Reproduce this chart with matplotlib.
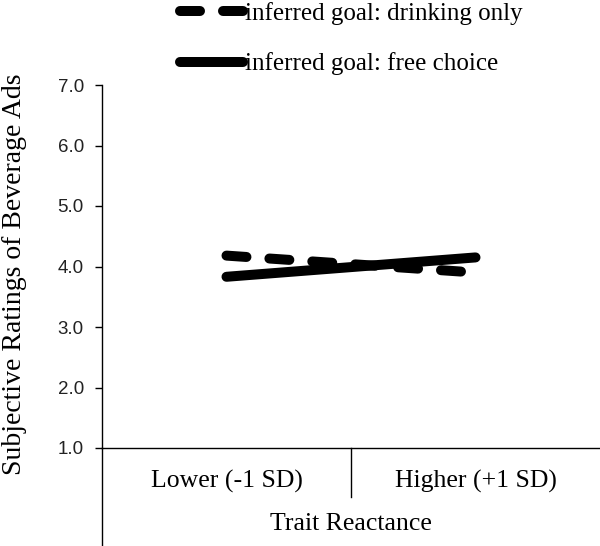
import numpy as np
import matplotlib
matplotlib.use("Agg")
import matplotlib.pyplot as plt
from matplotlib.lines import Line2D

categories = ["Lower (-1 SD)", "Higher (+1 SD)"]
drinking_only = [4.18, 3.90]
free_choice = [3.83, 4.15]
series_labels = ["inferred goal: drinking only", "inferred goal: free choice"]

serif = "Liberation Serif"
sans = "Liberation Sans"

fig = plt.figure(figsize=(6, 5.46), dpi=100)
# axes box in pixels: left 102, bottom 448, top 85
ax = fig.add_axes([102 / 600, 98 / 546, 498 / 600, 363 / 546])
h = 363.0

x = np.arange(len(categories))
lw = 7.2
ax.plot(x, drinking_only, color="black", lw=lw, linestyle=(0, (2.0, 2.3)),
        dash_capstyle="round", solid_capstyle="round", label=series_labels[0])
ax.plot(x, free_choice, color="black", lw=lw, solid_capstyle="round",
        label=series_labels[1])

ax.set_xlim(-0.5, 1.5)
ax.set_ylim(1, 7)
ax.set_yticks(np.arange(1, 8))
ax.set_yticklabels(["%.1f" % v for v in np.arange(1, 8)], fontfamily=sans,
                   fontsize=13.5, color="#222222")
ax.tick_params(axis="y", direction="out", length=5, width=1, pad=8)
ax.set_xticks([])
for s in ["top", "right"]:
    ax.spines[s].set_visible(False)
ax.spines["left"].set_linewidth(1)
ax.spines["bottom"].set_linewidth(1)

# category table below the axis
ax.add_line(Line2D([0, 0], [0, -98 / h], transform=ax.transAxes,
                   color="black", lw=1, clip_on=False))
ax.add_line(Line2D([0.5, 0.5], [0, -49 / h], transform=ax.transAxes,
                   color="black", lw=1, clip_on=False))
for i, c in enumerate(categories):
    ax.text(0.25 + 0.5 * i, -33 / h, c, transform=ax.transAxes,
            ha="center", va="center", fontfamily=serif, fontsize=18.5)
ax.text(0.5, -76 / h, "Trait Reactance", transform=ax.transAxes,
        ha="center", va="center", fontfamily=serif, fontsize=18.5)

ax.set_ylabel("Subjective Ratings of Beverage Ads", fontfamily=serif,
              fontsize=20)
ax.yaxis.set_label_coords(-75 / 498, 0.48)

leg = ax.legend(loc="upper left", bbox_to_anchor=(180 / 600, 1 - 2 / 546),
                bbox_transform=fig.transFigure, frameon=False,
                handlelength=2.5, handletextpad=0.1, labelspacing=1.1,
                borderaxespad=0.0, borderpad=0.0,
                prop={"family": serif, "size": 18})

fig.savefig("out.png", dpi=100)
